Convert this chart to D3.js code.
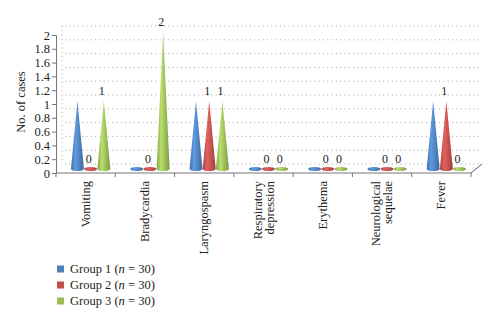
<!DOCTYPE html>
<html>
<head>
<meta charset="utf-8">
<script src="https://cdn.jsdelivr.net/npm/d3@7"></script>
<style>
  body { margin: 0; background: #fff; }
  text { font-family: "Liberation Serif", "DejaVu Serif", serif; fill: #222; }
</style>
</head>
<body>
<svg id="chart" width="500" height="325"></svg>
<script>
// DATA
const categories = [["Vomiting"], ["Bradycardia"], ["Laryngospasm"], ["Respiratory", "depression"], ["Erythema"], ["Neurological", "sequelae"], ["Fever"]];
const group1 = [1, 0, 1, 0, 0, 0, 1];
const group2 = [0, 0, 1, 0, 0, 0, 1];
const group3 = [1, 2, 1, 0, 0, 0, 0];
const seriesNames = ["Group 1", "Group 2", "Group 3"];
const yTicks = [0, 0.2, 0.4, 0.6, 0.8, 1, 1.2, 1.4, 1.6, 1.8, 2];

const series = [group1, group2, group3];
const colors = ["#4f81bd", "#c0504d", "#9bbb59"];
const labelled = [false, true, true]; // only groups 2 and 3 carry value labels

let svg = d3.select("#chart");

let xScale = d3.scaleBand()
    .domain(d3.range(categories.length))
    .range([56, 471])
    .paddingInner(0);

let yScale = d3.scaleLinear()
    .domain([0, 2])
    .range([173, 35]);

// gradients for the cones
let defs = svg.append("defs");
colors.forEach((c, i) => {
    let g = defs.append("linearGradient")
        .attr("id", "cone" + i)
        .attr("x1", "0%").attr("x2", "100%")
        .attr("y1", "0%").attr("y2", "0%");
    g.append("stop").attr("offset", "0%").attr("stop-color", d3.color(c).darker(0.4));
    g.append("stop").attr("offset", "35%").attr("stop-color", d3.color(c).brighter(0.5));
    g.append("stop").attr("offset", "100%").attr("stop-color", d3.color(c).darker(0.6));
});

////////////////////
// BACK WALL GRID (dotted, shifted for the 3D look)
const depthX = 9, depthY = 9;
svg.append("g")
    .selectAll("line")
    .data(yTicks)
    .join("line")
    .attr("x1", xScale.range()[0] + depthX)
    .attr("x2", xScale.range()[1] + 11)
    .attr("y1", d => yScale(d) - depthY)
    .attr("y2", d => yScale(d) - depthY)
    .style("stroke", "#a5a5a5")
    .style("stroke-width", 1)
    .style("stroke-dasharray", "1,3.3");

svg.append("line")
    .attr("x1", xScale.range()[0] + 6)
    .attr("x2", xScale.range()[0] + 6)
    .attr("y1", yScale(2) - depthY)
    .attr("y2", yScale(0) - depthY)
    .style("stroke", "#a5a5a5")
    .style("stroke-dasharray", "1,3.3");

////////////////////
// AXES
let yAxis = svg.append("g")
    .attr("transform", `translate(${xScale.range()[0]},0)`)
    .call(d3.axisLeft(yScale)
        .tickValues(yTicks)
        .tickSize(4)
        .tickFormat(d3.format("~g")));
yAxis.select(".domain").attr("stroke", "#777");
yAxis.selectAll(".tick line").attr("stroke", "#777");
yAxis.selectAll(".tick text")
    .attr("x", -6)
    .style("font-family", "Liberation Serif, serif")
    .style("font-size", "12.5px")
    .attr("fill", "#1a1a1a");

// floor line with ticks between categories
let x0 = xScale.range()[0], x1 = xScale.range()[1];
svg.append("line")
    .attr("x1", x0).attr("x2", x1)
    .attr("y1", yScale(0)).attr("y2", yScale(0))
    .style("stroke", "#777");
svg.append("line")
    .attr("x1", x1).attr("x2", x1 + 11)
    .attr("y1", yScale(0)).attr("y2", yScale(0) - depthY)
    .style("stroke", "#555");
svg.append("g")
    .selectAll("line")
    .data(d3.range(categories.length + 1))
    .join("line")
    .attr("x1", d => x0 + d * xScale.bandwidth())
    .attr("x2", d => x0 + d * xScale.bandwidth())
    .attr("y1", yScale(0))
    .attr("y2", yScale(0) + 4)
    .style("stroke", "#777");

// y title
svg.append("text")
    .attr("transform", `translate(25,${(yScale(0) + yScale(2)) / 2 - 2}) rotate(-90)`)
    .attr("text-anchor", "middle")
    .style("font-size", "12.5px")
    .text("No. of cases");

// category labels, rotated, lines end-aligned at the top
let catLabels = svg.append("g")
    .selectAll("text")
    .data(categories)
    .join("text")
    .attr("transform", (d, i) => `translate(${xScale(i) + xScale.bandwidth() / 2},181) rotate(-90)`)
    .attr("text-anchor", "end")
    .style("font-size", "12.5px");
catLabels.each(function(d) {
    let t = d3.select(this);
    let n = d.length;
    d.forEach((line, k) => {
        t.append("tspan")
            .attr("x", 0)
            .attr("y", (k - (n - 1) / 2) * 12 + 4)
            .text(line);
    });
});

////////////////////
// CONES
const coneW = 13, ellRy = 2, step = 13.2;
let baseY = yScale(0) - 4;

function conePath(cx, v) {
    let top = yScale(v) - 3;
    if (v === 0) {
        return `M${cx - coneW / 2},${baseY} A${coneW / 2},${ellRy} 0 1,0 ${cx + coneW / 2},${baseY} A${coneW / 2},${ellRy} 0 1,0 ${cx - coneW / 2},${baseY} Z`;
    }
    return `M${cx - coneW / 2},${baseY} L${cx},${top} L${cx + coneW / 2},${baseY} A${coneW / 2},${ellRy} 0 0,1 ${cx - coneW / 2},${baseY} Z`;
}

series.forEach((vals, si) => {
    let g = svg.append("g");
    vals.forEach((v, ci) => {
        let cx = xScale(ci) + xScale.bandwidth() / 2 + 5 + (si - 1) * step;
        g.append("path")
            .attr("d", conePath(cx, v))
            .attr("fill", `url(#cone${si})`);
        if (labelled[si]) {
            let top = v === 0 ? baseY : yScale(v) - 3;
            g.append("text")
                .attr("x", cx - 2)
                .attr("y", top - 6)
                .attr("text-anchor", "middle")
                .style("font-size", "12px")
                .text(v);
        }
    });
});

////////////////////
// LEGEND
let legend = svg.append("g")
    .selectAll("g")
    .data(seriesNames)
    .join("g")
    .attr("transform", (d, i) => `translate(57,${269 + i * 16})`);
legend.append("rect")
    .attr("x", 0).attr("y", -3.5)
    .attr("width", 7).attr("height", 7)
    .attr("fill", (d, i) => colors[i]);
legend.append("text")
    .attr("x", 13)
    .attr("y", 4)
    .style("font-size", "12.5px")
    .each(function(d) {
        let t = d3.select(this);
        t.append("tspan").text(d + " (");
        t.append("tspan").style("font-style", "italic").text("n");
        t.append("tspan").text(" = 30)");
    });
</script>
</body>
</html>
